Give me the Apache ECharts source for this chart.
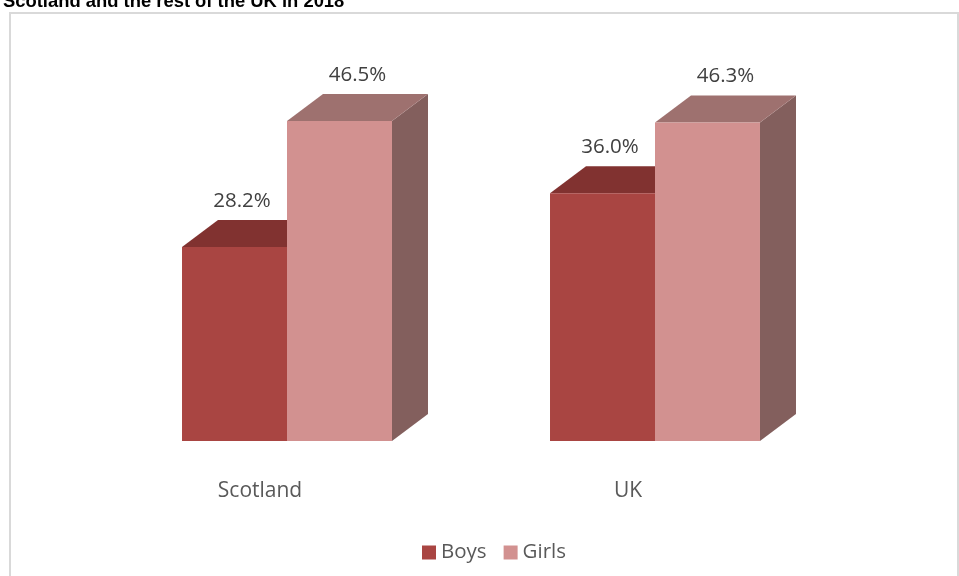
<!DOCTYPE html>
<html>
<head>
<meta charset="utf-8">
<script src="https://cdn.jsdelivr.net/npm/echarts@6/dist/echarts.min.js"></script>
<style>
html,body{margin:0;padding:0;background:#fff;}
#c{width:959px;height:576px;}
</style>
</head>
<body>
<div id="c"></div>
<script>
const titleText = 'Scotland and the rest of the UK in 2018';
const categories = ['Scotland', 'UK'];
const seriesNames = ['Boys', 'Girls'];
const boys = [28.2, 36.0];
const girls = [46.5, 46.3];

const chart = echarts.init(document.getElementById('c'));

function makeRender(side, colors, labelDx) {
  return function (params, api) {
    const cat = api.value(0), val = api.value(1);
    const base = api.coord([cat, 0]);
    const top = api.coord([cat, val]);
    const band = api.size([1, 0])[0];
    const w = band * 0.2853;
    const x0 = side === 0 ? base[0] - w : base[0];
    const x1 = x0 + w;
    const yB = base[1], yT = top[1];
    const dx = 36, dy = -27;
    return {
      type: 'group',
      children: [
        { type: 'polygon', shape: { points: [[x1, yT], [x1 + dx, yT + dy], [x1 + dx, yB + dy], [x1, yB]] }, style: { fill: colors.side } },
        { type: 'polygon', shape: { points: [[x0, yT], [x0 + dx, yT + dy], [x1 + dx, yT + dy], [x1, yT]] }, style: { fill: colors.top } },
        { type: 'rect', shape: { x: x0, y: yT, width: w, height: yB - yT }, style: { fill: colors.front } },
        { type: 'text', style: { text: val.toFixed(1) + '%', x: (x0 + x1) / 2 + labelDx, y: yT - 46, align: 'center', verticalAlign: 'middle', fill: '#404040', font: '20.5px "Open Sans"' } }
      ]
    };
  };
}

const boysColors = { front: '#A94542', top: '#813230', side: '#6E3A38' };
const girlsColors = { front: '#D29190', top: '#9E716F', side: '#835F5D' };

chart.setOption({
  animation: false,
  title: {
    text: titleText,
    left: -2,
    top: -12,
    textStyle: { fontFamily: 'Liberation Sans', fontWeight: 'bold', fontSize: 18.4, color: '#000' }
  },
  graphic: [{
    type: 'rect',
    shape: { x: 10, y: 13, width: 948, height: 600 },
    style: { fill: 'none', stroke: '#D9D9D9', lineWidth: 2 },
    silent: true
  }],
  legend: {
    data: seriesNames,
    top: 537,
    left: 417,
    icon: 'rect',
    itemWidth: 14,
    itemHeight: 14,
    itemGap: 17,
    textStyle: { fontFamily: 'Open Sans', fontSize: 20.5, color: '#595959' }
  },
  grid: { left: 103, right: 120, top: 97, bottom: 135 },
  xAxis: {
    type: 'category',
    data: categories,
    axisLine: { show: false },
    axisTick: { show: false },
    axisLabel: { margin: 40, padding: [0, 54, 0, 0], fontFamily: 'Open Sans', fontSize: 21, color: '#595959' }
  },
  yAxis: { type: 'value', min: 0, max: 50, show: false, splitLine: { show: false } },
  series: [
    {
      name: seriesNames[0], type: 'custom',
      itemStyle: { color: boysColors.front },
      renderItem: makeRender(0, boysColors, 7.5),
      data: boys.map((v, i) => [i, v]),
      encode: { x: 0, y: 1 }
    },
    {
      name: seriesNames[1], type: 'custom',
      itemStyle: { color: girlsColors.front },
      renderItem: makeRender(1, girlsColors, 18),
      data: girls.map((v, i) => [i, v]),
      encode: { x: 0, y: 1 }
    }
  ]
});
</script>
</body>
</html>
